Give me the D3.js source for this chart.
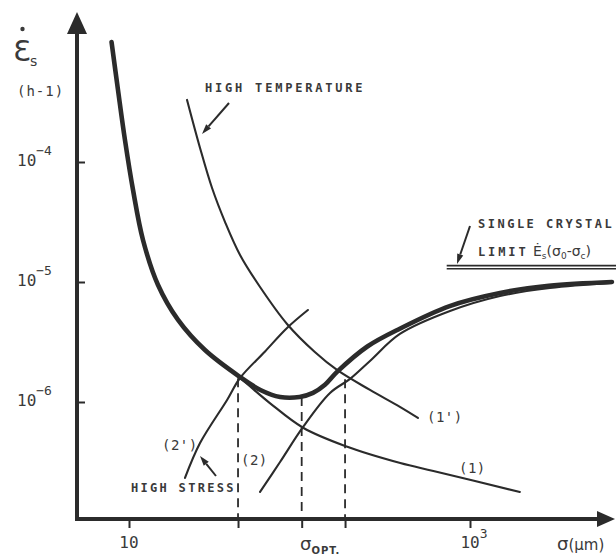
<!DOCTYPE html>
<html>
<head>
<meta charset="utf-8">
<script src="https://cdn.jsdelivr.net/npm/d3@7"></script>
<style>
  body { margin: 0; background: #fff; }
  svg { display: block; }
  text { fill: #3a3a3a; }
</style>
</head>
<body>
<script>
// Steady-state creep rate (h^-1) against grain size d (µm), each curve as [d, rate]
const compositeCurve = [
  [7.9, 1.0e-3], [8.62, 3.98e-4], [9.47, 1.525e-4], [10.56, 5.84e-5], [12.08, 2.24e-5],
  [14.8, 9.44e-6], [19.4, 4.83e-6], [27.9, 2.71e-6], [44.8, 1.615e-6], [59, 1.26e-6],
  [77, 1.1e-6], [100, 1.1e-6], [120, 1.19e-6], [141, 1.39e-6], [166, 1.78e-6],
  [250, 2.9e-6], [390, 4.1e-6], [760, 6.3e-6], [1500, 8.1e-6], [2900, 9.3e-6],
  [6800, 1.0e-5]
];
const curve1 = [
  [27.9, 2.71e-6], [45, 1.58e-6], [67, 9.8e-7], [105, 6.1e-7], [185, 4.3e-7],
  [390, 3.1e-7], [610, 2.66e-7], [1960, 1.78e-7]
];
const curve1Prime = [
  [21.9, 3.29e-4], [26.1, 1.31e-4], [30.7, 6.07e-5], [36.6, 3.16e-5], [44.8, 1.68e-5],
  [58.7, 9.08e-6], [84.5, 4.47e-6], [123, 2.61e-6], [166, 1.85e-6], [259, 1.26e-6],
  [388, 9.1e-7], [495, 7.36e-7]
];
const curve2 = [
  [58.7, 1.78e-7], [76.9, 3.16e-7], [105, 6.2e-7], [151, 1.19e-6], [198, 1.56e-6],
  [259, 2.2e-6], [388, 3.69e-6], [763, 5.73e-6], [1500, 7.64e-6], [2944, 8.9e-6],
  [6800, 9.8e-6]
];
const curve2Prime = [
  [21.3, 2.33e-7], [26.1, 4.55e-7], [37.6, 1.04e-6], [44.8, 1.585e-6],
  [62.8, 2.64e-6], [84.5, 4.14e-6], [112, 5.84e-6]
];
// Vertical drop lines: grain size and the rate where each one starts
const dropLines = [[43.6, 1.58e-6], [103, 1.1e-6], [185, 1.55e-6]];
// Single-crystal limit rate and the grain size where its line begins
const singleCrystalRate = 1.33e-5;
const singleCrystalFrom = 730;

const xTickValues = [10, 1000];
const xTickLabels = [["10", ""], ["10", "3"]];
const yTickValues = [1e-4, 1e-5, 1e-6];
const yTickLabels = [["10", "\u22124"], ["10", "\u22125"], ["10", "\u22126"]];

const W = 616, H = 560;
const ink = "#2b2b2b";
const originX = 77, originY = 519, xTip = 615, yTip = 12;

const svg = d3.select("body").append("svg").attr("width", W).attr("height", H);

const x = d3.scaleLog().domain([10, 1000]).range([129, 470]);
const y = d3.scaleLog().domain([1e-6, 1e-4]).range([402, 162]);

const line = d3.line()
  .x(d => x(d[0])).y(d => y(d[1]))
  .curve(d3.curveCatmullRom.alpha(0.5));

// Drop lines to the grain-size axis
svg.append("g").selectAll("line").data(dropLines).join("line")
  .attr("x1", d => x(d[0])).attr("x2", d => x(d[0]))
  .attr("y1", d => y(d[1])).attr("y2", originY)
  .attr("stroke", ink).attr("stroke-width", 1.8)
  .attr("stroke-dasharray", "9,6");

// Thin mechanism curves
[curve1, curve1Prime, curve2, curve2Prime].forEach(c => {
  svg.append("path").datum(c).attr("d", line)
    .attr("fill", "none").attr("stroke", ink)
    .attr("stroke-width", 2.1).attr("stroke-linecap", "round");
});

// Resulting creep-rate curve
svg.append("path").datum(compositeCurve).attr("d", line)
  .attr("fill", "none").attr("stroke", ink)
  .attr("stroke-width", 4.6).attr("stroke-linecap", "round");

// Single-crystal limit (double rule)
[-1.6, 1.6].forEach(off => {
  svg.append("line")
    .attr("x1", x(singleCrystalFrom)).attr("x2", W)
    .attr("y1", y(singleCrystalRate) + off).attr("y2", y(singleCrystalRate) + off)
    .attr("stroke", ink).attr("stroke-width", 1.7);
});

// Axes
const xAxis = d3.axisBottom(x)
  .tickValues([10, ...dropLines.map(d => d[0]), 1000])
  .tickSizeInner(9).tickSizeOuter(0).tickFormat("");
const gx = svg.append("g").attr("transform", `translate(0,${originY})`).call(xAxis);
gx.select(".domain").remove();
gx.selectAll(".tick line").attr("stroke", ink).attr("stroke-width", 2);

const yAxis = d3.axisRight(y)
  .tickValues(yTickValues).tickSizeInner(8).tickSizeOuter(0).tickFormat("");
const gy = svg.append("g").attr("transform", `translate(${originX},0)`).call(yAxis);
gy.select(".domain").remove();
gy.selectAll(".tick line").attr("stroke", ink).attr("stroke-width", 2);

svg.append("line").attr("x1", originX - 2).attr("x2", xTip - 14)
  .attr("y1", originY).attr("y2", originY)
  .attr("stroke", ink).attr("stroke-width", 4);
svg.append("line").attr("x1", originX).attr("x2", originX)
  .attr("y1", originY + 2).attr("y2", yTip + 16)
  .attr("stroke", ink).attr("stroke-width", 4);
svg.append("path")
  .attr("d", `M${xTip},${originY} L${xTip - 18},${originY - 8} L${xTip - 18},${originY + 8} Z`)
  .attr("fill", ink);
svg.append("path")
  .attr("d", `M${originX},${yTip} L${originX - 10},${yTip + 22} L${originX + 10},${yTip + 22} Z`)
  .attr("fill", ink);

const mono = "'DejaVu Sans Mono', 'Liberation Mono', monospace";
const sans = "'DejaVu Sans', sans-serif";

// Tick labels
xTickValues.forEach((v, i) => {
  const t = svg.append("text")
    .attr("x", x(v) + (xTickLabels[i][1] ? 4 : 0)).attr("y", 548)
    .attr("text-anchor", "middle")
    .style("font-family", mono).style("font-size", "16px");
  t.append("tspan").text(xTickLabels[i][0]);
  if (xTickLabels[i][1]) {
    t.append("tspan").attr("dy", -10).style("font-size", "13px").text(xTickLabels[i][1]);
  }
});
yTickValues.forEach((v, i) => {
  const t = svg.append("text")
    .attr("x", 17).attr("y", y(v) + 4)
    .style("font-family", mono).style("font-size", "16px");
  t.append("tspan").text(yTickLabels[i][0]);
  t.append("tspan").attr("dy", -11).style("font-size", "13px").text(yTickLabels[i][1]);
});

// Axis titles
svg.append("text").attr("x", 13).attr("y", 61)
  .style("font-family", sans).style("font-size", "29px").text("\u0190");
svg.append("circle").attr("cx", 22.5).attr("cy", 29).attr("r", 2.2).attr("fill", "#3a3a3a");
svg.append("text").attr("x", 30).attr("y", 66)
  .style("font-family", sans).style("font-size", "14px").text("s");
svg.append("text").attr("x", 17).attr("y", 96)
  .style("font-family", mono).style("font-size", "14px")
  .style("letter-spacing", "1px").text("(h-1)");

const xt = svg.append("text").attr("x", 557).attr("y", 550)
  .style("font-family", sans).style("font-size", "15px");
xt.append("tspan").style("font-size", "18px").text("\u03C3");
xt.append("tspan").text("(\u03BCm)");

const opt = svg.append("text").attr("x", 300).attr("y", 550)
  .style("font-family", sans);
opt.append("tspan").style("font-size", "18px").text("\u03C3");
opt.append("tspan").attr("dy", 4).style("font-size", "10px")
  .style("font-weight", "bold").style("letter-spacing", "1px").text("OPT.");

// Annotations
const note = (tx, ty, str, size, bold, spacing) =>
  svg.append("text").attr("x", tx).attr("y", ty)
    .style("font-family", mono).style("font-size", size + "px")
    .style("font-weight", bold ? "bold" : "normal")
    .style("letter-spacing", spacing + "px").text(str);

note(205, 92, "HIGH TEMPERATURE", 12, true, 2.8);
note(131, 492, "HIGH STRESS", 12, true, 2.3);
note(478, 228, "SINGLE CRYSTAL", 12, true, 2.5);
note(478, 256, "LIMIT", 12, true, 2.9);

const lim = svg.append("text").attr("x", 533).attr("y", 256)
  .style("font-family", sans).style("font-size", "14px");
lim.append("tspan").text("\u0116");
lim.append("tspan").attr("dy", 3).style("font-size", "9px").text("s");
lim.append("tspan").attr("dy", -3).text("(\u03C3");
lim.append("tspan").attr("dy", 3).style("font-size", "9px").text("0");
lim.append("tspan").attr("dy", -3).text("-\u03C3");
lim.append("tspan").attr("dy", 3).style("font-size", "9px").text("c");
lim.append("tspan").attr("dy", -3).text(")");

note(427, 422, "(1')", 14, false, 0.5);
note(459, 473, "(1)", 14, false, 0.5);
note(162, 450, "(2')", 14, false, 0.5);
note(241, 465, "(2)", 14, false, 0.5);

// Pointer arrows
function arrow(x1, y1, x2, y2) {
  const a = Math.atan2(y2 - y1, x2 - x1), L = 10, w = 3.2;
  const bx = x2 - L * Math.cos(a), by = y2 - L * Math.sin(a);
  svg.append("line").attr("x1", x1).attr("y1", y1).attr("x2", bx).attr("y2", by)
    .attr("stroke", ink).attr("stroke-width", 2);
  svg.append("path")
    .attr("d", `M${x2},${y2} L${bx - w * Math.sin(a)},${by + w * Math.cos(a)} L${bx + w * Math.sin(a)},${by - w * Math.cos(a)} Z`)
    .attr("fill", ink);
}
arrow(229, 103, 202, 134);
arrow(470, 226, 457, 264);
arrow(216, 476, 200, 456);
</script>
</body>
</html>
